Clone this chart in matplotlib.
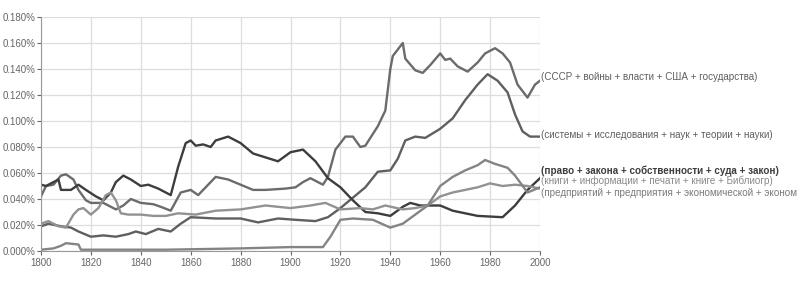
import matplotlib.pyplot as plt
from matplotlib.ticker import FuncFormatter

plt.rcParams['font.family'] = ['Liberation Sans', 'DejaVu Sans']

# Данные (доля, %)
ussr_years = [1800, 1802, 1805, 1808, 1810, 1813, 1815, 1818, 1820, 1825, 1830, 1833, 1836, 1840,
              1845, 1848, 1852, 1856, 1860, 1863, 1867, 1870, 1875, 1880, 1885, 1890, 1898, 1902,
              1905, 1908, 1913, 1915, 1918, 1922, 1925, 1928, 1930, 1935, 1938, 1940, 1941, 1943,
              1945, 1946, 1950, 1953, 1956, 1960, 1962, 1964, 1967, 1971, 1975, 1978, 1982, 1985,
              1988, 1991, 1995, 1998, 2000]
ussr_vals = [0.042, 0.050, 0.051, 0.058, 0.059, 0.055, 0.047, 0.039, 0.037, 0.037, 0.032, 0.035,
             0.040, 0.037, 0.036, 0.034, 0.031, 0.045, 0.047, 0.043, 0.051, 0.057, 0.055, 0.051,
             0.047, 0.047, 0.048, 0.049, 0.053, 0.056, 0.051, 0.057, 0.078, 0.088, 0.088, 0.080,
             0.081, 0.096, 0.108, 0.140, 0.150, 0.155, 0.160, 0.148, 0.139, 0.137, 0.143, 0.152,
             0.147, 0.148, 0.142, 0.138, 0.145, 0.152, 0.156, 0.152, 0.145, 0.128, 0.118, 0.128,
             0.131]

sys_years = [1800, 1803, 1808, 1812, 1815, 1820, 1825, 1830, 1835, 1838, 1842, 1847, 1852, 1856,
             1860, 1870, 1880, 1887, 1895, 1902, 1910, 1915, 1920, 1925, 1930, 1935, 1940, 1943,
             1946, 1950, 1954, 1960, 1965, 1970, 1975, 1979, 1983, 1987, 1990, 1993, 1996, 2000]
sys_vals = [0.019, 0.021, 0.019, 0.018, 0.015, 0.011, 0.012, 0.011, 0.013, 0.015, 0.013, 0.017,
            0.015, 0.021, 0.026, 0.025, 0.025, 0.022, 0.025, 0.024, 0.023, 0.026, 0.033, 0.041,
            0.049, 0.061, 0.062, 0.071, 0.085, 0.088, 0.087, 0.094, 0.102, 0.116, 0.128, 0.136,
            0.131, 0.122, 0.105, 0.092, 0.088, 0.088]

law_years = [1800, 1802, 1805, 1807, 1808, 1812, 1815, 1818, 1822, 1825, 1828, 1830, 1833, 1836,
             1840, 1843, 1847, 1852, 1855, 1858, 1860, 1862, 1865, 1868, 1870, 1875, 1880, 1885,
             1890, 1895, 1900, 1905, 1910, 1915, 1920, 1925, 1930, 1935, 1940, 1945, 1948, 1952,
             1960, 1965, 1975, 1985, 1990, 1995, 2000]
law_vals = [0.051, 0.050, 0.053, 0.055, 0.047, 0.047, 0.051, 0.047, 0.042, 0.039, 0.045, 0.053,
            0.058, 0.055, 0.050, 0.051, 0.048, 0.043, 0.065, 0.083, 0.085, 0.081, 0.082, 0.080,
            0.085, 0.088, 0.083, 0.075, 0.072, 0.069, 0.076, 0.078, 0.069, 0.056, 0.049, 0.039,
            0.030, 0.029, 0.027, 0.034, 0.037, 0.035, 0.035, 0.031, 0.027, 0.026, 0.035, 0.047,
            0.056]

book_years = [1800, 1803, 1807, 1810, 1813, 1815, 1817, 1820, 1823, 1826, 1828, 1830, 1832, 1835,
              1840, 1845, 1850, 1855, 1862, 1870, 1880, 1890, 1900, 1908, 1914, 1920, 1928, 1933,
              1938, 1945, 1950, 1955, 1960, 1965, 1970, 1975, 1980, 1985, 1990, 1995, 2000]
book_vals = [0.021, 0.023, 0.019, 0.018, 0.028, 0.032, 0.033, 0.028, 0.033, 0.043, 0.045, 0.039,
             0.029, 0.028, 0.028, 0.027, 0.027, 0.029, 0.028, 0.031, 0.032, 0.035, 0.033, 0.035,
             0.037, 0.032, 0.033, 0.032, 0.035, 0.032, 0.033, 0.035, 0.042, 0.045, 0.047, 0.049,
             0.052, 0.050, 0.051, 0.050, 0.048]

ent_years = [1800, 1805, 1808, 1810, 1815, 1816, 1850, 1880, 1900, 1913, 1916, 1920, 1925, 1933,
             1940, 1945, 1950, 1955, 1960, 1965, 1970, 1975, 1978, 1982, 1987, 1990, 1995, 2000]
ent_vals = [0.001, 0.002, 0.004, 0.006, 0.005, 0.001, 0.001, 0.002, 0.003, 0.003, 0.011, 0.024,
            0.025, 0.024, 0.018, 0.021, 0.028, 0.035, 0.050, 0.057, 0.062, 0.066, 0.070, 0.067,
            0.064, 0.058, 0.045, 0.049]

# в оригинале последняя подпись обрезана краем картинки
labels = ["(СССР + войны + власти + США + государства)",
          "(системы + исследования + наук + теории + науки)",
          "(право + закона + собственности + суда + закон)",
          "(книги + информации + печати + книге + Библиогр)",
          "(предприятий + предприятия + экономической + эконом"]
label_y = [0.134, 0.089, 0.0615, 0.054, 0.0447]

series = [(ussr_years, ussr_vals, '#6b6b6b'),
          (sys_years, sys_vals, '#5f5f5f'),
          (law_years, law_vals, '#3d3d3d'),
          (book_years, book_vals, '#929292'),
          (ent_years, ent_vals, '#848484')]
label_colors = ['#5f5f5f', '#5f5f5f', '#3d3d3d', '#8a8a8a', '#7a7a7a']

fig = plt.figure(figsize=(7.97, 2.83), dpi=100)
ax = fig.add_axes([41/797, 1 - 251/283, 499/797, 234/283])

for (xs, ys, c) in series:
    ax.plot(xs, ys, color=c, linewidth=1.7, solid_joinstyle='round')

for i, (lab, ly, lc) in enumerate(zip(labels, label_y, label_colors)):
    ax.text(2000.3, ly, lab, color=lc, fontsize=7.1, va='center', ha='left', clip_on=False,
            fontweight='bold' if i == 2 else 'normal')

ax.set_xlim(1800, 2000)
ax.set_ylim(0, 0.18)
ax.set_xticks(range(1800, 2001, 20))
ax.set_yticks([i * 0.02 for i in range(10)])
ax.yaxis.set_major_formatter(FuncFormatter(lambda v, p: f"{v:.3f}%"))
ax.grid(True, color='#dddddd', linewidth=0.9)
ax.set_axisbelow(True)
for s in ['top', 'right']:
    ax.spines[s].set_visible(False)
ax.spines['left'].set_color('#999999')
ax.spines['bottom'].set_color('#999999')
ax.tick_params(axis='both', labelsize=7, colors='#666666', length=3, width=0.8)
ax.tick_params(axis='x', pad=2)
ax.tick_params(axis='y', pad=1)

fig.savefig('out.png', dpi=100)
